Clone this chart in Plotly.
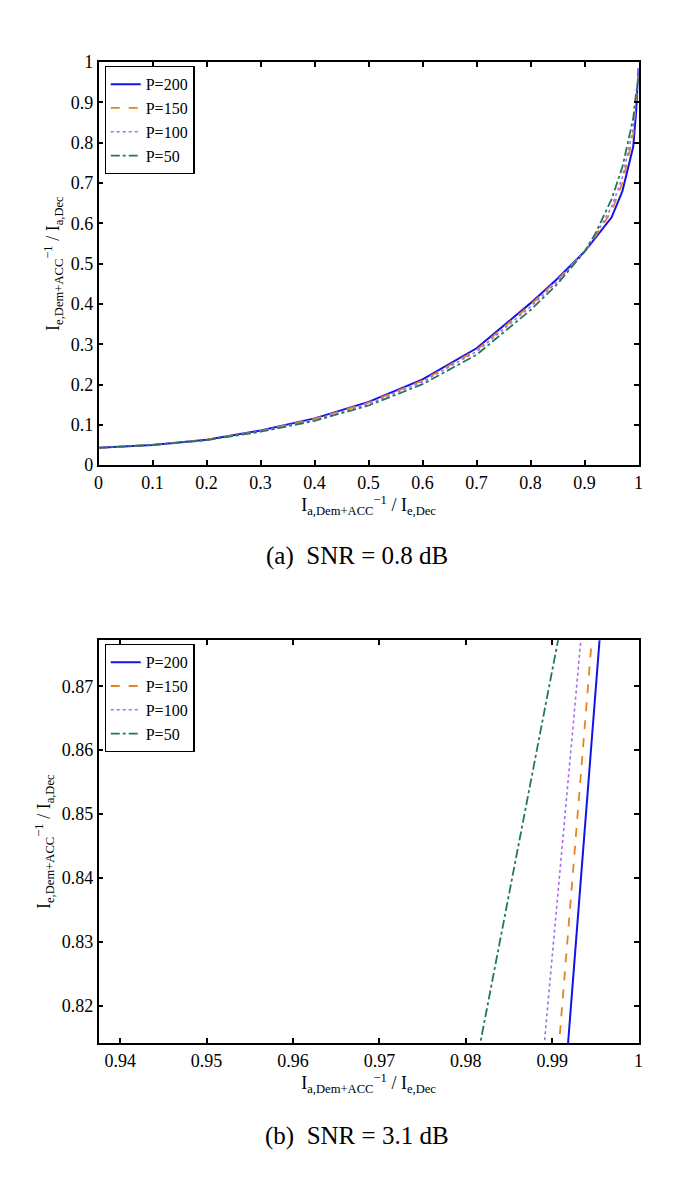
import plotly.graph_objects as go

W, H = 685, 1181

# ---- data: panel (a) SNR = 0.8 dB ----
xa = [0.0, 0.1, 0.2, 0.3, 0.4, 0.5, 0.6, 0.7, 0.8, 0.85, 0.9, 0.92, 0.95, 0.97, 0.99, 0.995, 1.0]
ya_p200 = [0.043, 0.050, 0.063, 0.086, 0.116, 0.157, 0.213, 0.290, 0.402, 0.463, 0.530, 0.565, 0.615, 0.680, 0.790, 0.870, 0.985]
ya_p150 = [0.043, 0.050, 0.063, 0.085, 0.115, 0.155, 0.210, 0.286, 0.398, 0.460, 0.530, 0.568, 0.630, 0.700, 0.820, 0.890, 0.975]
ya_p100 = [0.043, 0.050, 0.062, 0.085, 0.113, 0.152, 0.207, 0.282, 0.393, 0.456, 0.530, 0.570, 0.640, 0.715, 0.835, 0.905, 0.970]
ya_p50 = [0.043, 0.050, 0.062, 0.083, 0.110, 0.148, 0.201, 0.274, 0.385, 0.450, 0.530, 0.575, 0.660, 0.740, 0.860, 0.920, 0.960]

# ---- data: panel (b) SNR = 3.1 dB (zoomed segment) ----
yb = [0.81, 0.88]
xb_p200 = [0.99159, 0.99564]
xb_p150 = [0.99055, 0.99474]
xb_p100 = [0.98881, 0.99350]
xb_p50 = [0.98107, 0.99108]

names = ["P=200", "P=150", "P=100", "P=50"]
colors = ["#1414e6", "#e5841c", "#a46cf0", "#23775a"]
dashes = ["solid", "dash", "dot", "dashdot"]
widths = [2.0, 1.8, 1.6, 1.8]

FONT = "Liberation Serif, Times New Roman, serif"

fig = go.Figure()
for n, c, d, w, y in zip(names, colors, dashes, widths, [ya_p200, ya_p150, ya_p100, ya_p50]):
    fig.add_trace(go.Scatter(x=xa, y=y, mode="lines", name=n,
                             line=dict(color=c, dash=d, width=w),
                             xaxis="x", yaxis="y", legend="legend"))
for n, c, d, w, x in zip(names, colors, dashes, widths, [xb_p200, xb_p150, xb_p100, xb_p50]):
    fig.add_trace(go.Scatter(x=x, y=yb, mode="lines", name=n,
                             line=dict(color=c, dash=d, width=w),
                             xaxis="x2", yaxis="y2", legend="legend2"))

xdom = [95 / W, 643 / W]
ydom1 = [1 - 463 / H, 1 - 53 / H]
ydom2 = [1 - 1051 / H, 1 - 641 / H]

axis_common = dict(showline=True, linecolor="black", linewidth=1.5, mirror="ticks",
                   ticks="inside", ticklen=5, tickwidth=1.5, tickcolor="black",
                   showgrid=False, zeroline=False,
                   tickfont=dict(family=FONT, size=18, color="black"))

xtitle = "I<sub>a,Dem+ACC</sub><sup>−1</sup> / I<sub>e,Dec</sub>"
ytitle = "I<sub>e,Dem+ACC</sub><sup>−1</sup> / I<sub>a,Dec</sub>"
tfont = dict(family=FONT, size=18, color="black")

fig.update_layout(
    width=W, height=H, margin=dict(l=0, r=0, t=0, b=0),
    paper_bgcolor="white", plot_bgcolor="white",
    font=dict(family=FONT, color="black"),
    xaxis=dict(domain=xdom, range=[0, 1], dtick=0.1, anchor="y",
               title=dict(text=xtitle, font=tfont, standoff=0),
               **axis_common),
    yaxis=dict(domain=ydom1, range=[0, 1], dtick=0.1, anchor="x",
               title=dict(text=ytitle, font=tfont, standoff=6),
               **axis_common),
    xaxis2=dict(domain=xdom, range=[0.9375, 1.0], anchor="y2",
                tickvals=[0.94, 0.95, 0.96, 0.97, 0.98, 0.99, 1.0],
                ticktext=["0.94", "0.95", "0.96", "0.97", "0.98", "0.99", "1"],
                title=dict(text=xtitle, font=tfont, standoff=0),
                **axis_common),
    yaxis2=dict(domain=ydom2, range=[0.8142, 0.8772], anchor="x2",
                tickvals=[0.82, 0.83, 0.84, 0.85, 0.86, 0.87],
                title=dict(text=ytitle, font=tfont, standoff=6),
                **axis_common),
    legend=dict(x=101 / W, y=1 - 57 / H, xanchor="left", yanchor="top",
                bordercolor="black", borderwidth=1.2, bgcolor="white",
                font=dict(family=FONT, size=16, color="black"), tracegroupgap=0,
                itemwidth=30),
    legend2=dict(x=101 / W, y=1 - 645 / H, xanchor="left", yanchor="top",
                 bordercolor="black", borderwidth=1.2, bgcolor="white",
                 font=dict(family=FONT, size=16, color="black"), tracegroupgap=0,
                 itemwidth=30),
    annotations=[
        dict(text="(a)  SNR = 0.8 dB", x=357 / W, y=1 - 555 / H, xref="paper", yref="paper",
             showarrow=False, font=dict(family=FONT, size=25, color="black"),
             xanchor="center", yanchor="middle"),
        dict(text="(b)  SNR = 3.1 dB", x=357 / W, y=1 - 1145 / H, xref="paper", yref="paper",
             showarrow=False, font=dict(family=FONT, size=25, color="black"),
             xanchor="center", yanchor="middle"),
    ],
)

fig.write_html("out.html", config={"displayModeBar": False},
               post_script="document.body.style.margin='0';")
